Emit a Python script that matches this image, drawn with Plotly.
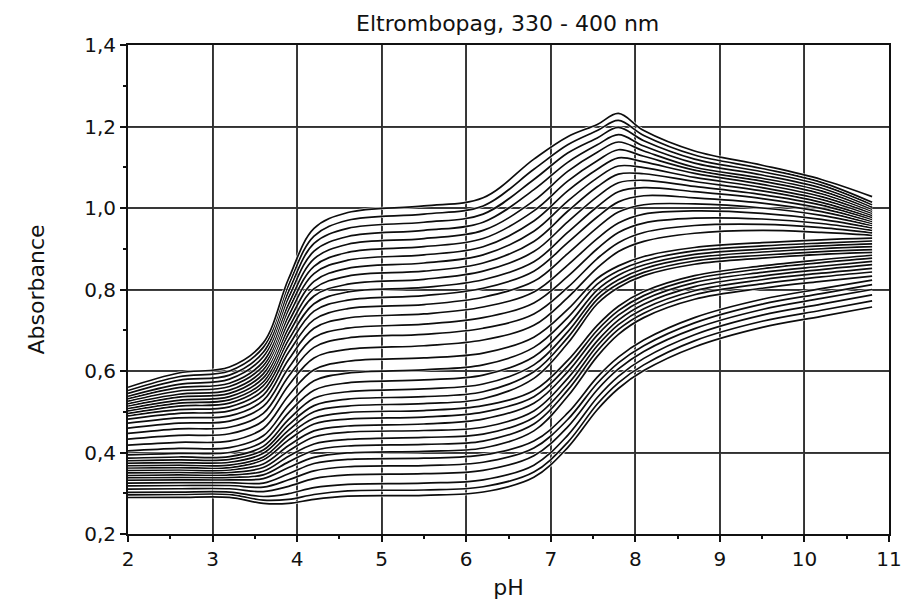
import plotly.graph_objects as go

# pH sampling points of the titration curves
pH = [2.0, 2.6, 3.2, 3.6, 3.9, 4.2, 4.6, 5.5, 6.2, 6.8, 7.2, 7.55, 7.8, 8.1, 8.7, 9.5, 10.2, 10.8]

# absorbance readings, one list per wavelength (nm)
wl330 = [0.560, 0.595, 0.610, 0.669, 0.827, 0.950, 0.989, 1.005, 1.025, 1.120, 1.175, 1.205, 1.232, 1.190, 1.140, 1.105, 1.070, 1.028]
wl332 = [0.552, 0.586, 0.600, 0.658, 0.812, 0.931, 0.970, 0.985, 1.005, 1.095, 1.155, 1.190, 1.215, 1.178, 1.130, 1.097, 1.063, 1.014]
wl334 = [0.545, 0.577, 0.590, 0.646, 0.796, 0.913, 0.950, 0.965, 0.985, 1.070, 1.135, 1.172, 1.198, 1.165, 1.120, 1.089, 1.056, 1.008]
wl336 = [0.538, 0.567, 0.580, 0.635, 0.781, 0.894, 0.930, 0.945, 0.965, 1.045, 1.112, 1.155, 1.180, 1.152, 1.110, 1.081, 1.049, 1.002]
wl338 = [0.532, 0.559, 0.570, 0.623, 0.765, 0.875, 0.911, 0.925, 0.945, 1.018, 1.090, 1.137, 1.162, 1.140, 1.100, 1.073, 1.042, 0.997]
wl340 = [0.526, 0.551, 0.562, 0.613, 0.751, 0.857, 0.891, 0.905, 0.925, 0.993, 1.066, 1.116, 1.143, 1.127, 1.093, 1.066, 1.035, 0.992]
wl342 = [0.520, 0.543, 0.553, 0.603, 0.736, 0.839, 0.872, 0.885, 0.905, 0.968, 1.042, 1.095, 1.123, 1.113, 1.085, 1.058, 1.028, 0.987]
wl344 = [0.514, 0.536, 0.545, 0.593, 0.721, 0.820, 0.852, 0.865, 0.885, 0.943, 1.017, 1.074, 1.103, 1.099, 1.075, 1.050, 1.021, 0.982]
wl346 = [0.508, 0.528, 0.537, 0.583, 0.706, 0.802, 0.833, 0.845, 0.865, 0.918, 0.992, 1.052, 1.083, 1.084, 1.065, 1.042, 1.014, 0.977]
wl348 = [0.502, 0.521, 0.529, 0.573, 0.692, 0.784, 0.813, 0.825, 0.845, 0.893, 0.966, 1.028, 1.062, 1.068, 1.053, 1.033, 1.007, 0.972]
wl350 = [0.496, 0.514, 0.521, 0.564, 0.677, 0.765, 0.794, 0.805, 0.824, 0.868, 0.940, 1.003, 1.040, 1.050, 1.040, 1.023, 0.999, 0.967]
wl352 = [0.490, 0.505, 0.512, 0.553, 0.662, 0.747, 0.774, 0.785, 0.803, 0.845, 0.915, 0.978, 1.015, 1.030, 1.025, 1.012, 0.991, 0.962]
wl354 = [0.482, 0.496, 0.502, 0.541, 0.646, 0.726, 0.753, 0.763, 0.781, 0.820, 0.888, 0.952, 0.990, 1.008, 1.010, 1.000, 0.982, 0.957]
wl356 = [0.472, 0.485, 0.490, 0.528, 0.628, 0.705, 0.730, 0.740, 0.757, 0.794, 0.860, 0.925, 0.963, 0.985, 0.993, 0.987, 0.972, 0.951]
wl358 = [0.460, 0.472, 0.477, 0.513, 0.608, 0.682, 0.705, 0.715, 0.731, 0.767, 0.832, 0.900, 0.940, 0.963, 0.975, 0.973, 0.962, 0.945]
wl360 = [0.447, 0.458, 0.462, 0.496, 0.587, 0.658, 0.681, 0.690, 0.705, 0.740, 0.805, 0.876, 0.915, 0.940, 0.957, 0.960, 0.952, 0.939]
wl362 = [0.433, 0.442, 0.446, 0.478, 0.565, 0.632, 0.653, 0.662, 0.676, 0.712, 0.780, 0.853, 0.893, 0.918, 0.938, 0.945, 0.940, 0.933]
wl364 = [0.418, 0.425, 0.428, 0.459, 0.540, 0.603, 0.624, 0.632, 0.644, 0.683, 0.751, 0.827, 0.858, 0.881, 0.903, 0.915, 0.922, 0.926]
wl366 = [0.404, 0.410, 0.412, 0.441, 0.517, 0.576, 0.595, 0.603, 0.615, 0.658, 0.731, 0.813, 0.846, 0.870, 0.895, 0.907, 0.914, 0.919]
wl368 = [0.394, 0.398, 0.400, 0.427, 0.498, 0.553, 0.571, 0.578, 0.590, 0.635, 0.712, 0.799, 0.835, 0.860, 0.886, 0.899, 0.907, 0.912]
wl370 = [0.386, 0.389, 0.390, 0.415, 0.481, 0.533, 0.549, 0.556, 0.568, 0.615, 0.696, 0.787, 0.824, 0.851, 0.878, 0.892, 0.900, 0.905]
wl372 = [0.380, 0.382, 0.383, 0.406, 0.468, 0.515, 0.531, 0.537, 0.549, 0.598, 0.682, 0.776, 0.814, 0.842, 0.870, 0.884, 0.893, 0.898]
wl374 = [0.374, 0.375, 0.376, 0.398, 0.455, 0.500, 0.514, 0.520, 0.532, 0.582, 0.668, 0.765, 0.805, 0.834, 0.862, 0.877, 0.886, 0.891]
wl376 = [0.368, 0.369, 0.369, 0.389, 0.443, 0.484, 0.498, 0.503, 0.515, 0.552, 0.626, 0.712, 0.759, 0.795, 0.834, 0.858, 0.873, 0.884]
wl378 = [0.362, 0.363, 0.363, 0.382, 0.431, 0.470, 0.482, 0.487, 0.499, 0.537, 0.612, 0.700, 0.748, 0.785, 0.826, 0.851, 0.866, 0.877]
wl380 = [0.356, 0.357, 0.357, 0.372, 0.417, 0.453, 0.465, 0.470, 0.482, 0.521, 0.598, 0.688, 0.737, 0.775, 0.817, 0.842, 0.857, 0.869]
wl382 = [0.350, 0.351, 0.351, 0.363, 0.404, 0.438, 0.450, 0.454, 0.462, 0.502, 0.582, 0.674, 0.725, 0.764, 0.807, 0.833, 0.849, 0.861]
wl384 = [0.344, 0.345, 0.345, 0.354, 0.391, 0.421, 0.432, 0.437, 0.445, 0.486, 0.567, 0.662, 0.714, 0.753, 0.797, 0.824, 0.840, 0.852]
wl386 = [0.338, 0.339, 0.339, 0.345, 0.377, 0.405, 0.416, 0.420, 0.428, 0.470, 0.553, 0.649, 0.702, 0.742, 0.787, 0.814, 0.831, 0.843]
wl388 = [0.332, 0.333, 0.333, 0.336, 0.363, 0.388, 0.399, 0.403, 0.411, 0.453, 0.538, 0.636, 0.690, 0.731, 0.776, 0.803, 0.820, 0.833]
wl390 = [0.325, 0.326, 0.326, 0.325, 0.348, 0.373, 0.383, 0.386, 0.394, 0.428, 0.497, 0.585, 0.634, 0.676, 0.731, 0.776, 0.802, 0.823]
wl392 = [0.318, 0.319, 0.319, 0.315, 0.333, 0.355, 0.365, 0.368, 0.376, 0.411, 0.481, 0.570, 0.620, 0.662, 0.718, 0.764, 0.790, 0.812]
wl394 = [0.310, 0.311, 0.311, 0.304, 0.317, 0.336, 0.345, 0.348, 0.356, 0.392, 0.463, 0.554, 0.605, 0.648, 0.704, 0.751, 0.778, 0.800]
wl396 = [0.302, 0.303, 0.303, 0.292, 0.299, 0.314, 0.322, 0.325, 0.333, 0.369, 0.442, 0.535, 0.587, 0.631, 0.689, 0.737, 0.764, 0.787]
wl398 = [0.296, 0.297, 0.297, 0.283, 0.285, 0.297, 0.306, 0.308, 0.316, 0.352, 0.425, 0.519, 0.571, 0.615, 0.674, 0.722, 0.749, 0.772]
wl400 = [0.290, 0.290, 0.290, 0.275, 0.275, 0.285, 0.293, 0.295, 0.303, 0.339, 0.412, 0.505, 0.557, 0.601, 0.659, 0.707, 0.734, 0.757]

wavelengths = [400, 398, 396, 394, 392, 390, 388, 386, 384, 382, 380, 378, 376, 374, 372, 370, 368,
               366, 364, 362, 360, 358, 356, 354, 352, 350, 348, 346, 344, 342, 340, 338, 336, 334, 332, 330]
series = [wl400, wl398, wl396, wl394, wl392, wl390, wl388, wl386, wl384, wl382, wl380, wl378, wl376,
          wl374, wl372, wl370, wl368, wl366, wl364, wl362, wl360, wl358, wl356, wl354, wl352, wl350,
          wl348, wl346, wl344, wl342, wl340, wl338, wl336, wl334, wl332, wl330]

x_ticks = [2, 3, 4, 5, 6, 7, 8, 9, 10, 11]
y_ticks = [0.2, 0.4, 0.6, 0.8, 1.0, 1.2, 1.4]

fig = go.Figure()
for wl, vals in zip(wavelengths, series):
    fig.add_trace(go.Scatter(x=pH, y=vals, mode="lines", showlegend=False, hoverinfo="skip",
                             line=dict(color="white", width=3.2, shape="spline", smoothing=1.0)))
    fig.add_trace(go.Scatter(x=pH, y=vals, mode="lines", name=f"{wl} nm", showlegend=False,
                             line=dict(color="#0d0d0d", width=1.7, shape="spline", smoothing=1.0)))

# faint grid seen through the curves
for xv in x_ticks[1:-1]:
    fig.add_shape(type="line", x0=xv, x1=xv, y0=0, y1=1, xref="x", yref="y domain", layer="above",
                  line=dict(color="rgba(30,30,30,0.45)", width=1))
for yv in y_ticks[1:-1]:
    fig.add_shape(type="line", x0=0, x1=1, y0=yv, y1=yv, xref="x domain", yref="y", layer="above",
                  line=dict(color="rgba(30,30,30,0.45)", width=1))

font_family = "DejaVu Sans, Liberation Sans, Arial, sans-serif"
axis_common = dict(
    showgrid=True, gridcolor="#404040", gridwidth=1.8,
    showline=True, linecolor="#111111", linewidth=1.8, mirror=True,
    ticks="outside", ticklen=6, tickwidth=1.5, tickcolor="#111111",
    tickfont=dict(family=font_family, size=20, color="#111111"),
    zeroline=False, layer="above traces", automargin=False,
)

fig.update_layout(
    width=909, height=605,
    margin=dict(l=128, r=20, t=45, b=71),
    paper_bgcolor="white", plot_bgcolor="white",
    separators=",.",
    title=dict(text="Eltrombopag, 330 - 400 nm", x=0.5585, xanchor="center", y=0.962, yanchor="middle",
               font=dict(family=font_family, size=22, color="#111111")),
    xaxis=dict(range=[2, 11], tickvals=x_ticks,
               minor=dict(dtick=0.5, ticks="outside", ticklen=3, tickcolor="#111111", showgrid=False),
               title=dict(text="pH", standoff=10, font=dict(family=font_family, size=22, color="#111111")),
               **axis_common),
    yaxis=dict(range=[0.2, 1.4], tickvals=y_ticks, tickformat=".1f",
               minor=dict(dtick=0.1, ticks="outside", ticklen=3, tickcolor="#111111", showgrid=False),
               title=dict(text="Absorbance", standoff=34, font=dict(family=font_family, size=22, color="#111111")),
               **axis_common),
)

fig.write_html("out.html", config={"displayModeBar": False})
